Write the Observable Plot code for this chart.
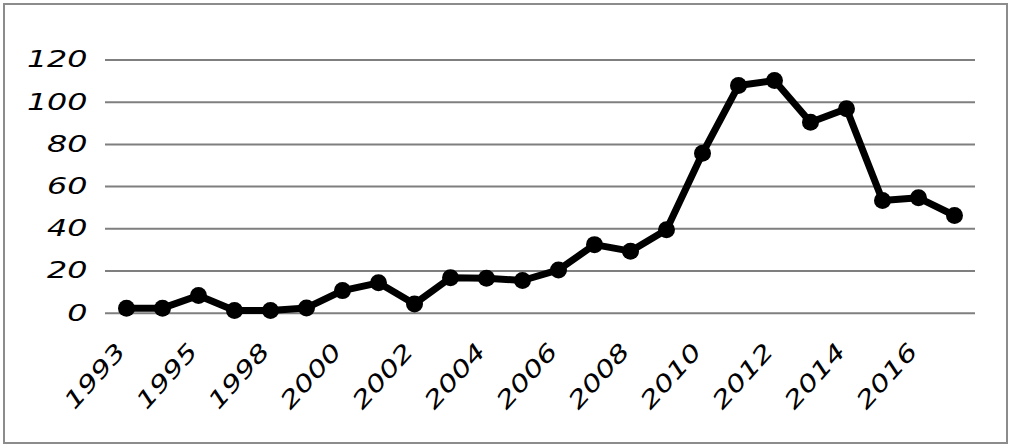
<!DOCTYPE html>
<html>
<head>
<meta charset="utf-8">
<script src="https://cdn.jsdelivr.net/npm/d3@7"></script>
<script src="https://cdn.jsdelivr.net/npm/@observablehq/plot@0.6"></script>
<style>
  html, body { margin: 0; padding: 0; background: #fff; }
  #wrap { position: relative; width: 1010px; height: 448px; overflow: hidden; }
  #frame { position: absolute; left: 3px; top: 3px; width: 1001px; height: 437px; border: 2px solid #8c8c8c; box-sizing: content-box; pointer-events: none; }
  #chart { position: absolute; left: 0; top: 0; }
</style>
</head>
<body>
<div id="wrap"><div id="chart"></div><div id="frame"></div></div>
<script>
const years = ["1993","1994","1995","1997","1998","1999","2000","2001","2002","2003","2004","2005","2006","2007","2008","2009","2010","2011","2012","2013","2014","2015","2016","2017"];
const values = [2.4, 2.4, 8.4, 1.3, 1.3, 2.5, 10.7, 14.4, 4.4, 16.8, 16.6, 15.5, 20.5, 32.5, 29.4, 39.5, 75.8, 107.9, 110.3, 90.5, 96.9, 53.4, 54.7, 46.3];
const xTickLabels = ["1993","1995","1998","2000","2002","2004","2006","2008","2010","2012","2014","2016"];
const yTicks = [0, 20, 40, 60, 80, 100, 120];

const data = years.map((y, i) => ({year: y, value: values[i]}));

const chart = Plot.plot({
  width: 1010,
  height: 448,
  marginLeft: 105,
  marginRight: 35,
  marginTop: 59.5,
  marginBottom: 135.3,
  style: {fontFamily: "DejaVu Sans", fontSize: "23px", color: "#000", background: "transparent"},
  x: {type: "point", domain: years, padding: 0.5, label: null},
  y: {domain: [0, 120], label: null},
  marks: [
    Plot.ruleY(yTicks, {stroke: "#7f7f7f", strokeWidth: 2}),
    Plot.axisY({ticks: yTicks, tickSize: 0, tickPadding: 18, fontSize: 23, fill: "#000", fontStyle: "italic"}),
    Plot.axisX({ticks: xTickLabels, tickSize: 0, tickPadding: 34, tickRotate: -48, dx: -5, fontSize: 23, fill: "#000", fontStyle: "italic"}),
    Plot.line(data, {x: "year", y: "value", stroke: "#000", strokeWidth: 7, strokeLinejoin: "round"}),
    Plot.dot(data, {x: "year", y: "value", r: 8.5, fill: "#000", stroke: "none"})
  ]
});
document.getElementById("chart").appendChild(chart);

// widen the tick label glyphs to match the broad handwritten face
d3.select(chart).selectAll("g[aria-label='y-axis tick label'] text").each(function() {
  const t = this.getAttribute("transform") || "";
  this.setAttribute("transform", t + " scale(1.38,1)");
});
d3.select(chart).selectAll("g[aria-label='x-axis tick label'] text").each(function() {
  const t = this.getAttribute("transform") || "";
  this.setAttribute("transform", t + " scale(1.34,1)");
});
</script>
</body>
</html>
